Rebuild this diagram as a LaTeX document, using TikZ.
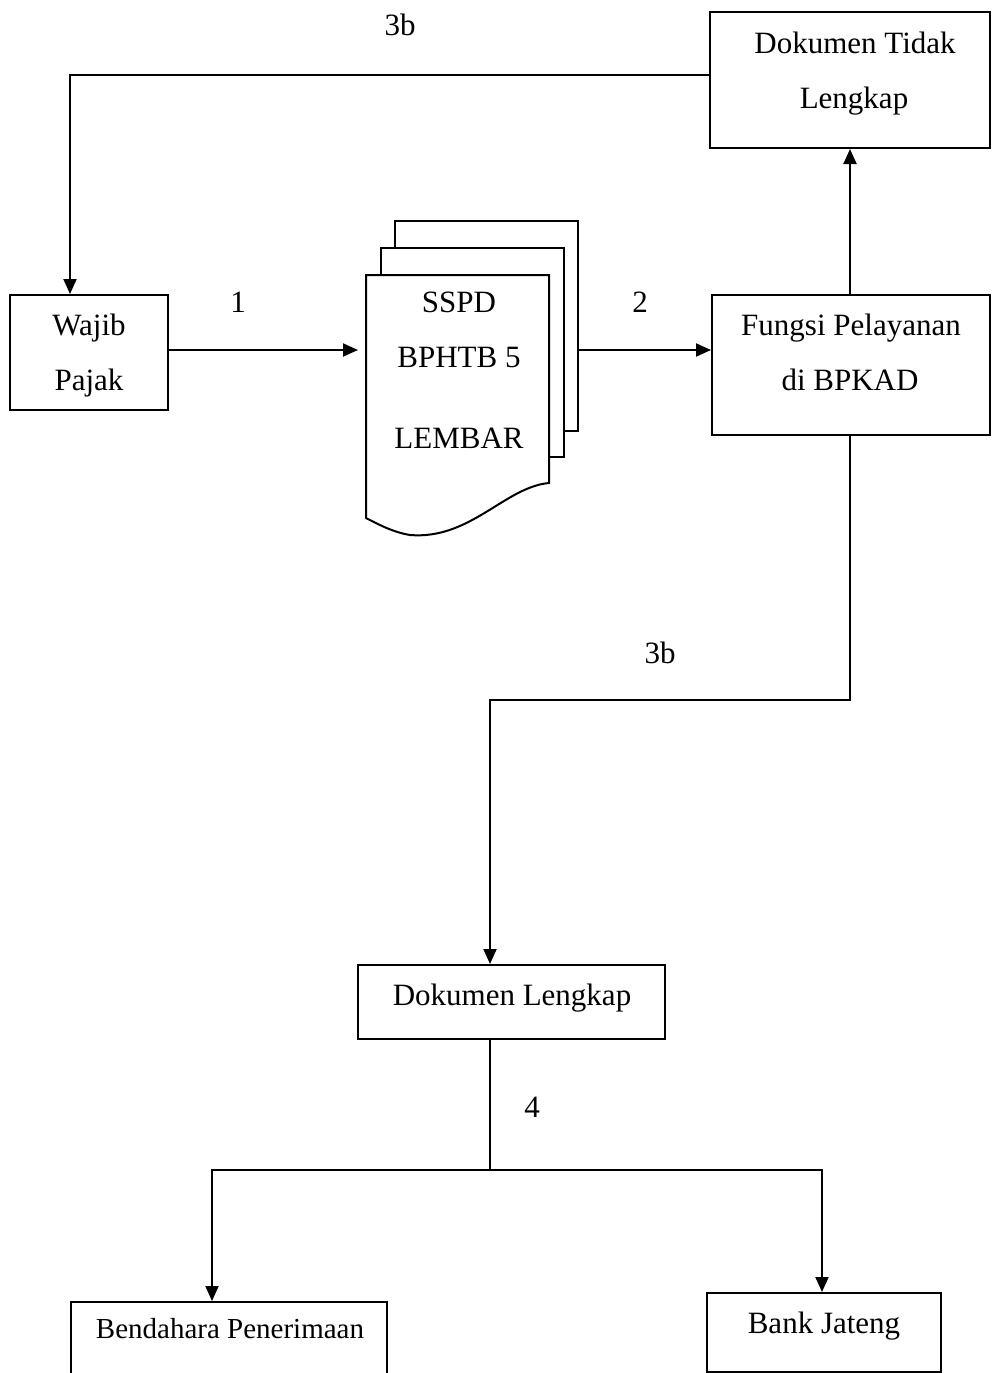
\documentclass[tikz,border=0pt]{standalone}
\usepackage{fontspec}
\setmainfont{Liberation Serif}
\usetikzlibrary{arrows.meta}
\begin{document}
\begin{tikzpicture}[x=1pt,y=-1pt,
  box/.style={draw, line width=2pt, inner sep=0pt},
  txt/.style={font=\fontsize{31}{37}\selectfont, anchor=base, inner sep=0pt},
  txts/.style={font=\fontsize{29}{35}\selectfont, anchor=base, inner sep=0pt},
  ln/.style={line width=2pt},
  arr/.style={line width=2pt, -{Triangle[length=15pt,width=13pt]}},
  page/.style={draw, fill=white, line width=2pt}]
\useasboundingbox (0,0) rectangle (992,1373);

% boxes
\node[box, minimum width=280pt, minimum height=136pt] (dtl) at (850,80) {};
\node[box, minimum width=158pt, minimum height=115pt] (wp) at (89,352.5) {};
\node[box, minimum width=278pt, minimum height=140pt] (fp) at (851,365) {};
\node[box, minimum width=307pt, minimum height=74pt] (dl) at (511.5,1002) {};
\node[box, minimum width=316pt, minimum height=90pt] (bp) at (229,1347) {};
\node[box, minimum width=234pt, minimum height=79pt] (bj) at (824,1332.5) {};

% document stack
\draw[page] (395,221) rectangle (578,431);
\draw[page] (381,248) rectangle (564,457);
\draw[page] (366,275) -- (549,275) -- (549,483)
  .. controls (505,487) and (470,540) .. (410,535)
  .. controls (392,532) and (378,524) .. (366,518) -- cycle;
\coordinate (docin) at (358,350);
\coordinate (docout) at (578,350);

% texts
\node[txt] (t1) at (855,53) {Dokumen Tidak};
\node[txt] (t2) at (854,108) {Lengkap};
\node[txt] (t3) at (89,335) {Wajib};
\node[txt] (t4) at (89,390) {Pajak};
\node[txt] (t5) at (851,335) {Fungsi Pelayanan};
\node[txt] (t6) at (850,390) {di BPKAD};
\node[txt] (t7) at (459,312) {SSPD};
\node[txt] (t8) at (459,367) {BPHTB 5};
\node[txt] (t9) at (459,448) {LEMBAR};
\node[txt] (t10) at (512,1005) {Dokumen Lengkap};
\node[txts] (t11) at (230,1338) {Bendahara Penerimaan};
\node[txt] (t12) at (824,1333) {Bank Jateng};
\node[txt] (l1) at (400,35) {3b};
\node[txt] (l2) at (238,312) {1};
\node[txt] (l3) at (640,312) {2};
\node[txt] (l4) at (660,663) {3b};
\node[txt] (l5) at (532,1117) {4};

% connectors
\draw[arr] ([yshift=5pt]dtl.west) -| ([xshift=-19pt]wp.north);
\draw[arr] (wp.east |- docin) -- (docin);
\draw[arr] (docout) -- (docout -| fp.west);
\draw[arr] ([xshift=-1pt]fp.north) -- ([xshift=-1pt]fp.north |- dtl.south);
\coordinate (k1) at (490,700);
\draw[arr] ([xshift=-1pt]fp.south) |- (k1) -- (k1 |- dl.north);
\coordinate (k2) at (490,1170);
\draw[ln] (k2 |- dl.south) -- (k2);
\draw[arr] (k2) -| ([xshift=-17pt]bp.north);
\draw[arr] (k2) -| ([xshift=-2pt]bj.north);
\end{tikzpicture}
\end{document}
